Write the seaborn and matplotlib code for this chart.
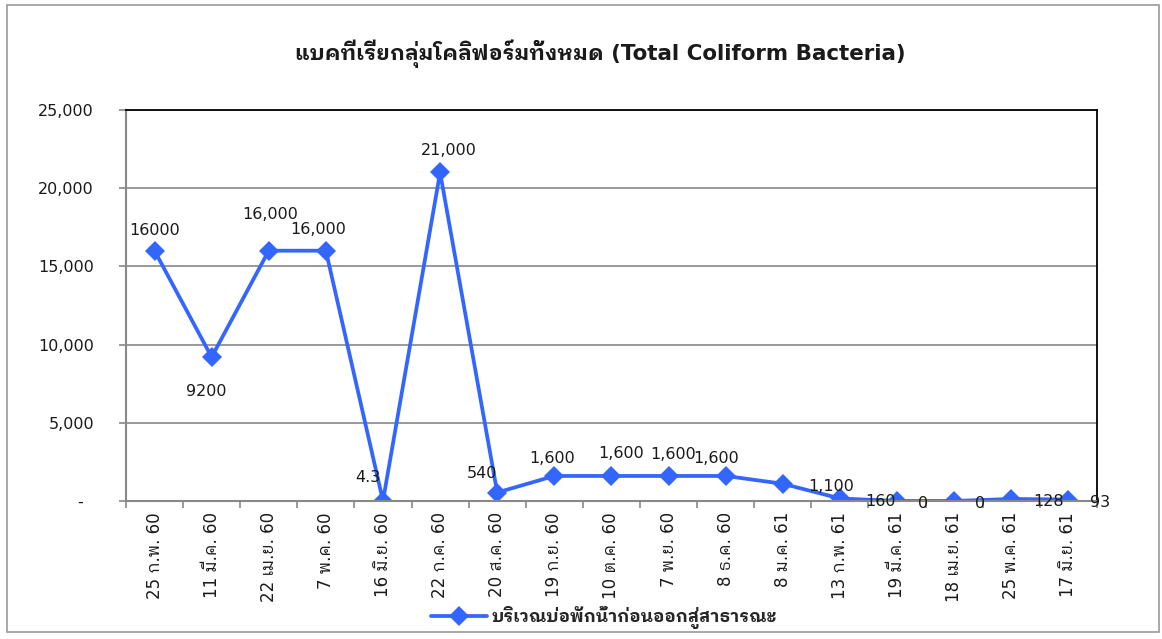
import matplotlib
matplotlib.use('Agg')
import numpy as np
import pandas as pd
import matplotlib.pyplot as plt
import matplotlib.ticker as mticker
from matplotlib.patches import Rectangle
import seaborn as sns

# data
dates = ['25 ก.พ. 60', '11 มี.ค. 60', '22 เม.ย. 60', '7 พ.ค. 60', '16 มิ.ย. 60',
         '22 ก.ค. 60', '20 ส.ค. 60', '19 ก.ย. 60', '10 ต.ค. 60', '7 พ.ย. 60',
         '8 ธ.ค. 60', '8 ม.ค. 61', '13 ก.พ. 61', '19 มี.ค. 61', '18 เม.ย. 61',
         '25 พ.ค. 61', '17 มิ.ย. 61']
counts = [16000, 9200, 16000, 16000, 4.3, 21000, 540, 1600, 1600, 1600,
          1600, 1100, 160, 0, 0, 128, 93]
count_labels = ['16000', '9200', '16,000', '16,000', '4.3', '21,000', '540',
                '1,600', '1,600', '1,600', '1,600', '1,100', '160', '0', '0',
                '128', '93']
series_name = 'บริเวณบ่อพักน้ำก่อนออกสู่สาธารณะ'
title = 'แบคทีเรียกลุ่มโคลิฟอร์มทั้งหมด (Total Coliform Bacteria)'

df = pd.DataFrame({'date': dates, 'count': counts})

# style
sns.set_style('white')
plt.rcParams['font.family'] = ['DejaVu Sans', 'IBM Plex Sans Thai Looped', 'Loma']
line_color = '#3366FF'
grid_color = '#888888'
text_color = '#1a1a1a'

fig = plt.figure(figsize=(11.62, 6.39), dpi=100)
ax = fig.add_axes([0.1084, 0.216, 0.8356, 0.612])

sns.lineplot(data=df, x='date', y='count', sort=False, ax=ax, color=line_color,
             linewidth=2.7, marker='D', markersize=10.5, markeredgewidth=0,
             label=series_name)

ax.set_xlim(-0.5, len(dates) - 0.5)
ax.set_ylim(0, 25000)
ax.set_yticks(np.arange(0, 25001, 5000))
ax.yaxis.set_major_formatter(mticker.FuncFormatter(
    lambda v, p: '-  ' if v == 0 else f'{v:,.0f}'))
ax.grid(axis='y', color=grid_color, linewidth=1.2)
ax.set_axisbelow(True)
ax.set_xlabel('')
ax.set_ylabel('')

ax.set_xticks(np.arange(len(dates)))
ax.set_xticklabels(dates, rotation=90)
ax.set_xticks(np.arange(-0.5, len(dates), 1), minor=True)
ax.tick_params(axis='x', which='major', length=0, pad=8, labelsize=12,
               labelcolor=text_color)
ax.tick_params(axis='x', which='minor', length=5, width=1.2, color=grid_color,
               direction='out', bottom=True)
ax.tick_params(axis='y', length=5, width=1.2, color=grid_color, pad=18,
               labelsize=11.5, labelcolor=text_color, left=True)

for side in ['top', 'right']:
    ax.spines[side].set_color('black')
    ax.spines[side].set_linewidth(1.3)
for side in ['left', 'bottom']:
    ax.spines[side].set_color(grid_color)
    ax.spines[side].set_linewidth(1.5)

# data labels
label_pos = [(0, 20, 'center'), (-5, -34, 'center'), (1, 36, 'center'),
             (-8, 21, 'center'), (-15, 23, 'center'), (9, 22, 'center'),
             (-15, 19, 'center'), (-2, 17, 'center'), (10, 22, 'center'),
             (5, 21, 'center'), (-10, 17, 'center'), (25, -3, 'left'),
             (25, -3, 'left'), (21, -3, 'left'), (21, -3, 'left'),
             (22, -3, 'left'), (22, -3, 'left')]
for i, (v, lab) in enumerate(zip(counts, count_labels)):
    dx, dy, ha = label_pos[i]
    ax.annotate(lab, (i, v), xytext=(dx, dy), textcoords='offset pixels',
                ha=ha, va='center', fontsize=11.5, color=text_color)

ax.legend(loc='center', bbox_to_anchor=(0.52, 0.034),
          bbox_transform=fig.transFigure, frameon=False, handlelength=3.2,
          handletextpad=0.3, prop={'weight': 'bold', 'size': 12.5})

fig.text(0.517, 0.916, title, ha='center', va='center', fontsize=15.4,
         weight='bold', color=text_color)

fig.patches.append(Rectangle((0.006, 0.011), 0.991, 0.981,
                             transform=fig.transFigure, fill=False,
                             edgecolor='#999999', linewidth=1.2))

fig.savefig('out.png', dpi=100)
